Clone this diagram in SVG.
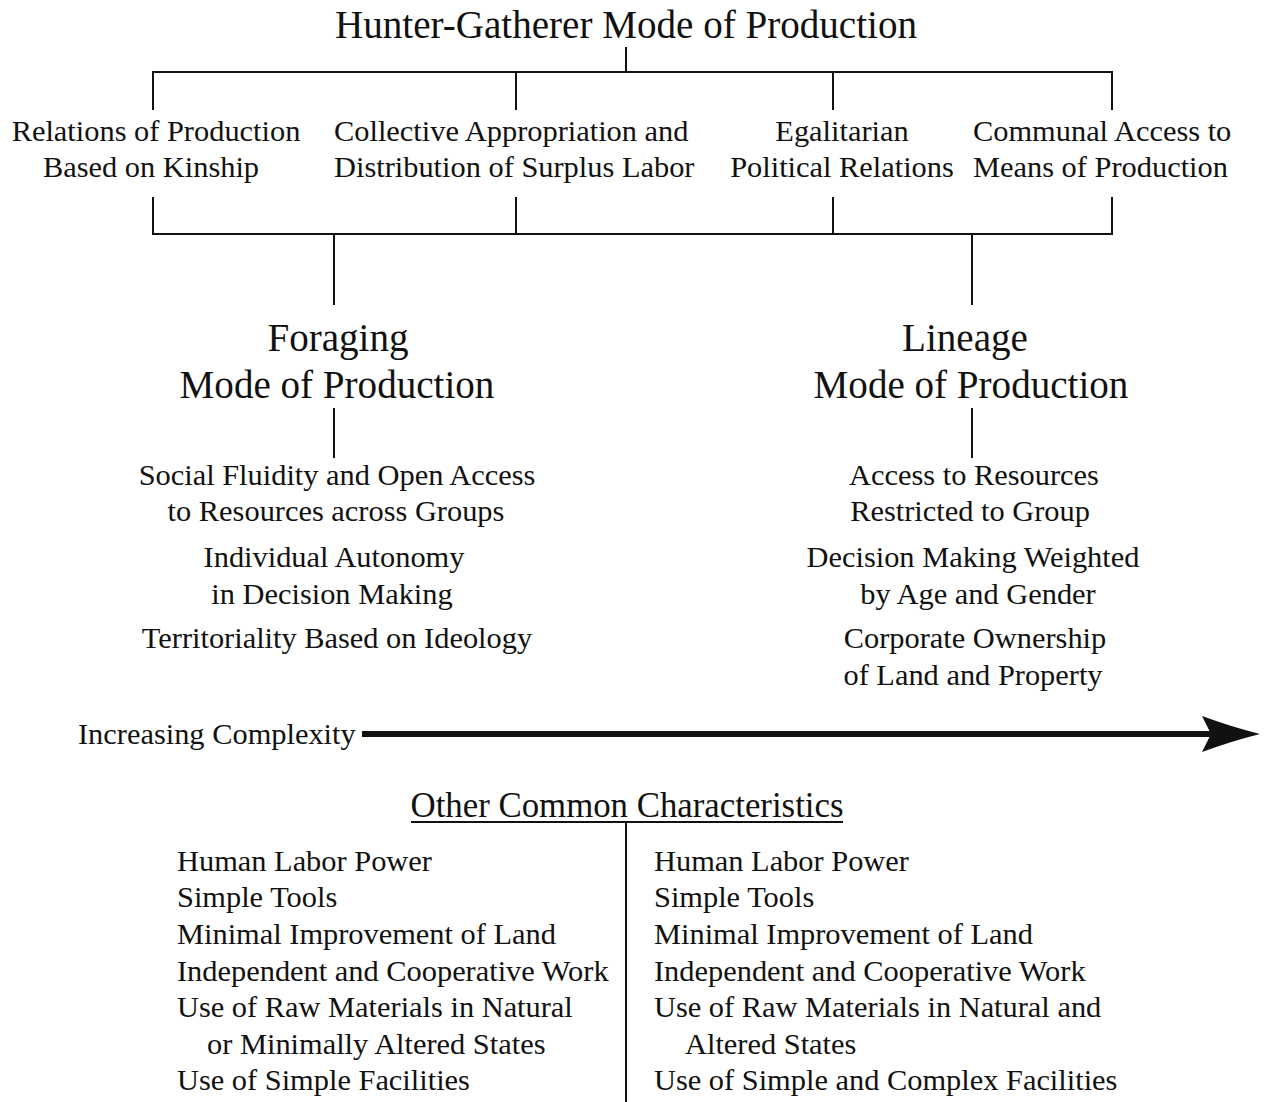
<svg xmlns="http://www.w3.org/2000/svg" width="1269" height="1102" viewBox="0 0 1269 1102">
  <style>
    text { font-family: "Liberation Serif", "Times New Roman", serif; fill: #111; }
    .title { font-size: 39.1px; }
    .item { font-size: 30.4px; }
    .sub { font-size: 34.8px; }
    .mid { text-anchor: middle; }
    .wire { stroke: #111; stroke-width: 2; fill: none; }
  </style>
  <defs>
    <!-- stealth head; reference point sits in the notch so the shaft tucks under it -->
    <marker id="stealth" markerUnits="userSpaceOnUse" markerWidth="62" markerHeight="40" refX="9" refY="18" orient="auto">
      <path d="M0,0 Q30,11 58,18 Q30,25 0,36 L9,18 Z" fill="#111"/>
    </marker>
  </defs>

  <rect width="1269" height="1102" fill="#fff"/>

  <!-- connectors -->
  <g id="connectors" class="wire">
    <path d="M626,47 V72"/>
    <path d="M153,110 V72 H1112 V110"/>
    <path d="M516,72 V110"/>
    <path d="M833,72 V110"/>
    <path d="M153,197 V234 H1112 V197"/>
    <path d="M516,197 V234"/>
    <path d="M833,197 V234"/>
    <path d="M334,234 V305"/>
    <path d="M972,234 V305"/>
    <path d="M334,408 V458"/>
    <path d="M972,408 V458"/>
    <path d="M626,822 V1102"/>
    <path d="M411,822 H843"/>
    <path d="M362,734 H1211" stroke-width="6" marker-end="url(#stealth)"/>
  </g>

  <!-- root -->
  <g id="hunter-gatherer">
    <text class="title mid" x="626" y="38">Hunter-Gatherer Mode of Production</text>
  </g>

  <!-- shared traits -->
  <g id="kinship">
    <text class="item mid" x="156" y="141">Relations of Production</text>
    <text class="item mid" x="151" y="177">Based on Kinship</text>
  </g>
  <g id="collective">
    <text class="item" x="334" y="141">Collective Appropriation and</text>
    <text class="item" x="334" y="177">Distribution of Surplus Labor</text>
  </g>
  <g id="egalitarian">
    <text class="item mid" x="842" y="141">Egalitarian</text>
    <text class="item mid" x="842" y="177">Political Relations</text>
  </g>
  <g id="communal">
    <text class="item" x="973" y="141">Communal Access to</text>
    <text class="item" x="973" y="177">Means of Production</text>
  </g>

  <!-- foraging branch -->
  <g id="foraging">
    <text class="title mid" x="338" y="351">Foraging</text>
    <text class="title mid" x="337" y="398">Mode of Production</text>
    <text class="item mid" x="337" y="485">Social Fluidity and Open Access</text>
    <text class="item mid" x="336" y="521">to Resources across Groups</text>
    <text class="item mid" x="334" y="567">Individual Autonomy</text>
    <text class="item mid" x="332" y="604">in Decision Making</text>
    <text class="item mid" x="337" y="648">Territoriality Based on Ideology</text>
  </g>

  <!-- lineage branch -->
  <g id="lineage">
    <text class="title mid" x="965" y="351">Lineage</text>
    <text class="title mid" x="971" y="398">Mode of Production</text>
    <text class="item mid" x="974" y="485">Access to Resources</text>
    <text class="item mid" x="970" y="521">Restricted to Group</text>
    <text class="item mid" x="973" y="567">Decision Making Weighted</text>
    <text class="item mid" x="978" y="604">by Age and Gender</text>
    <text class="item mid" x="975" y="648">Corporate Ownership</text>
    <text class="item mid" x="973" y="685">of Land and Property</text>
  </g>

  <!-- complexity axis -->
  <g id="complexity">
    <text class="item" x="78" y="744">Increasing Complexity</text>
  </g>

  <!-- common characteristics -->
  <g id="common">
    <text class="sub mid" x="627" y="817">Other Common Characteristics</text>
  </g>
  <g id="common-foraging">
    <text class="item" x="177" y="871">Human Labor Power</text>
    <text class="item" x="177" y="907">Simple Tools</text>
    <text class="item" x="177" y="944">Minimal Improvement of Land</text>
    <text class="item" x="177" y="981">Independent and Cooperative Work</text>
    <text class="item" x="177" y="1017">Use of Raw Materials in Natural</text>
    <text class="item" x="207" y="1054">or Minimally Altered States</text>
    <text class="item" x="177" y="1090">Use of Simple Facilities</text>
  </g>
  <g id="common-lineage">
    <text class="item" x="654" y="871">Human Labor Power</text>
    <text class="item" x="654" y="907">Simple Tools</text>
    <text class="item" x="654" y="944">Minimal Improvement of Land</text>
    <text class="item" x="654" y="981">Independent and Cooperative Work</text>
    <text class="item" x="654" y="1017">Use of Raw Materials in Natural and</text>
    <text class="item" x="685" y="1054">Altered States</text>
    <text class="item" x="654" y="1090">Use of Simple and Complex Facilities</text>
  </g>
</svg>
